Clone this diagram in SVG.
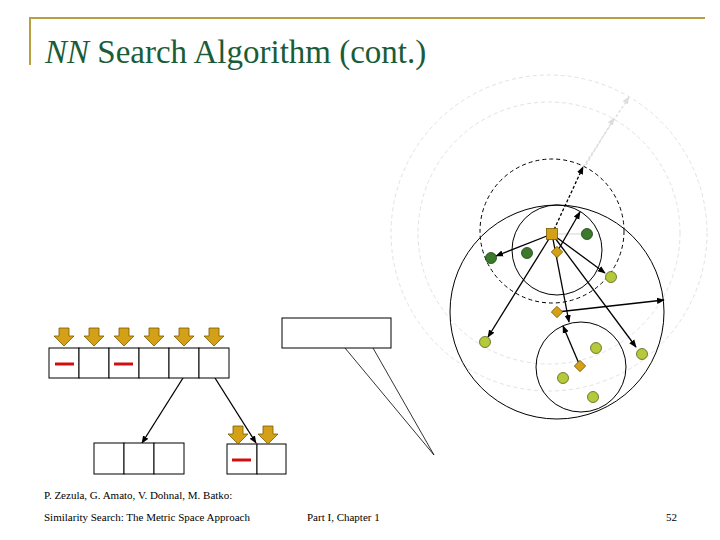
<svg xmlns="http://www.w3.org/2000/svg" width="720" height="540" viewBox="0 0 720 540">
<style>
.t{font-family:"Liberation Serif","Times New Roman",serif;fill:#000}
.cell{fill:#fff;stroke:#000;stroke-width:1}
.ga{fill:#D4A017;stroke:#7a5c00;stroke-width:0.8}
.red{stroke:#d01010;stroke-width:3}
.dg{fill:#3a7a2a;stroke:#1f3f14;stroke-width:0.8}
.lg{fill:#b5c93a;stroke:#56631a;stroke-width:0.8}
.dm{fill:#D4A017;stroke:#7a5c00;stroke-width:0.8}
.ln{stroke:#000;stroke-width:1.3;fill:none}
.c{fill:none;stroke:#000;stroke-width:1}
.faint{fill:none;stroke:#e2e2e2;stroke-width:1;stroke-dasharray:4 3}
</style>
<defs>
<marker id="ah" viewBox="0 0 10 10" refX="9" refY="5" markerWidth="6" markerHeight="6" orient="auto-start-reverse"><path d="M0,1 L10,5 L0,9 z" fill="#000"/></marker>
<marker id="ahg" viewBox="0 0 10 10" refX="9" refY="5" markerWidth="6" markerHeight="6" orient="auto-start-reverse"><path d="M0,1 L10,5 L0,9 z" fill="#ddd"/></marker>
<path id="da" d="M-5,0 h10 v8 h5 l-10,10 l-10,-10 h5 z"/>
</defs>
<rect width="720" height="540" fill="#fff"/>
<g id="header">
<path d="M30,65 V18 H705" fill="none" stroke="#b8a040" stroke-width="2"/>
<text class="t" x="45" y="63" font-size="33" style="fill:#1a5c38"><tspan font-style="italic">NN</tspan> Search Algorithm (cont.)</text>
</g>
<g id="space">
<circle class="faint" cx="549" cy="233" r="158"/>
<circle class="faint" cx="549" cy="233" r="131"/>
<circle class="c" cx="552" cy="231" r="72" stroke-dasharray="4 3"/>
<circle class="c" cx="557" cy="250" r="45"/>
<circle class="c" cx="557" cy="312" r="107"/>
<circle class="c" cx="581" cy="367" r="45"/>
</g>
<g id="connectors">
<line x1="583" y1="167" x2="629" y2="97" stroke="#ddd" stroke-width="1.3" stroke-dasharray="3 2" marker-end="url(#ahg)"/>
<line x1="586" y1="165" x2="614" y2="118" stroke="#ddd" stroke-width="1.3" stroke-dasharray="3 2" marker-end="url(#ahg)"/>
<line x1="556" y1="234" x2="588" y2="234" stroke="#ddd" stroke-width="1.3" marker-end="url(#ahg)"/>
<line class="ln" x1="552" y1="234" x2="583" y2="167" stroke-dasharray="3 2" marker-end="url(#ah)"/>
<line class="ln" x1="557" y1="252" x2="580" y2="212" marker-end="url(#ah)"/>
<line class="ln" x1="552" y1="234" x2="496" y2="256" marker-end="url(#ah)"/>
<line class="ln" x1="552" y1="234" x2="488" y2="337" marker-end="url(#ah)"/>
<line class="ln" x1="552" y1="234" x2="605" y2="273" marker-end="url(#ah)"/>
<line class="ln" x1="552" y1="234" x2="636" y2="347" marker-end="url(#ah)"/>
<line class="ln" x1="552" y1="234" x2="569" y2="322" marker-end="url(#ah)"/>
<line class="ln" x1="557" y1="312" x2="664" y2="300" marker-end="url(#ah)"/>
<line class="ln" x1="580" y1="366" x2="563" y2="326" marker-end="url(#ah)"/>
<line class="ln" x1="183" y1="378" x2="142" y2="443" marker-end="url(#ah)"/>
<line class="ln" x1="215" y1="378" x2="256" y2="443" marker-end="url(#ah)"/>
</g>
<g id="objects">
<circle class="dg" cx="587" cy="234" r="5.5"/>
<circle class="dg" cx="527" cy="253" r="5.5"/>
<circle class="dg" cx="491" cy="258" r="5.5"/>
<circle class="lg" cx="611" cy="277" r="5.5"/>
<circle class="lg" cx="485" cy="342" r="5.5"/>
<circle class="lg" cx="596" cy="348" r="5.5"/>
<circle class="lg" cx="642" cy="354" r="5.5"/>
<circle class="lg" cx="563" cy="378" r="5.5"/>
<circle class="lg" cx="593" cy="397" r="5.5"/>
<rect class="dm" x="546.5" y="228.5" width="11" height="11"/>
<rect class="dm" x="553" y="248" width="8" height="8" transform="rotate(45 557 252)"/>
<rect class="dm" x="553" y="308" width="8" height="8" transform="rotate(45 557 312)"/>
<rect class="dm" x="576" y="362" width="8" height="8" transform="rotate(45 580 366)"/>
</g>
<g id="root-node">
<rect class="cell" x="49" y="348" width="30" height="30"/>
<rect class="cell" x="79" y="348" width="30" height="30"/>
<rect class="cell" x="109" y="348" width="30" height="30"/>
<rect class="cell" x="139" y="348" width="30" height="30"/>
<rect class="cell" x="169" y="348" width="30" height="30"/>
<rect class="cell" x="199" y="348" width="30" height="30"/>
<line class="red" x1="55" y1="364" x2="74" y2="364"/>
<line class="red" x1="114" y1="364" x2="133" y2="364"/>
<use href="#da" class="ga" x="64" y="328"/>
<use href="#da" class="ga" x="94" y="328"/>
<use href="#da" class="ga" x="124" y="328"/>
<use href="#da" class="ga" x="154" y="328"/>
<use href="#da" class="ga" x="184" y="328"/>
<use href="#da" class="ga" x="214" y="328"/>
</g>
<g id="leaf-left">
<rect class="cell" x="94" y="443" width="30" height="31"/>
<rect class="cell" x="124" y="443" width="30" height="31"/>
<rect class="cell" x="154" y="443" width="30" height="31"/>
</g>
<g id="leaf-right">
<rect class="cell" x="227" y="444" width="30" height="30"/>
<rect class="cell" x="257" y="444" width="29" height="30"/>
<line class="red" x1="232" y1="460" x2="251" y2="460"/>
<use href="#da" class="ga" x="238" y="426"/>
<use href="#da" class="ga" x="268" y="426"/>
</g>
<g id="callout">
<path d="M345,348 L434,455 L373,348" fill="#fff" stroke="#000" stroke-width="0.8"/>
<rect x="282" y="318" width="109" height="30" fill="#fff" stroke="#000" stroke-width="1"/>
</g>
<g id="footer">
<text class="t" x="44" y="499" font-size="11">P. Zezula, G. Amato, V. Dohnal, M. Batko:</text>
<text class="t" x="44" y="521" font-size="11">Similarity Search: The Metric Space Approach</text>
<text class="t" x="307" y="521" font-size="11">Part I, Chapter 1</text>
<text class="t" x="677" y="521" font-size="11" text-anchor="end">52</text>
</g>
</svg>
